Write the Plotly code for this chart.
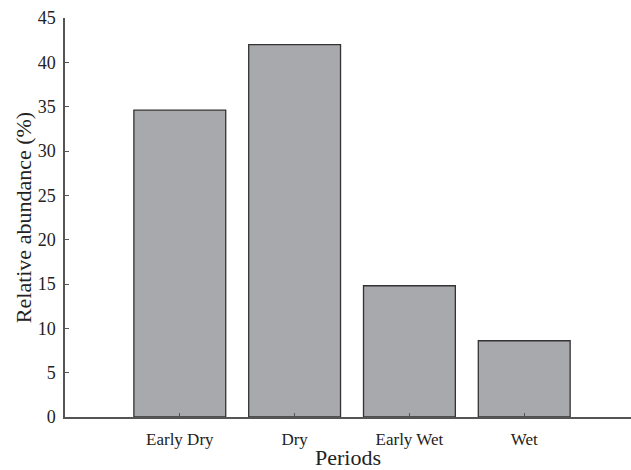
import plotly.graph_objects as go

categories = ["Early Dry", "Dry", "Early Wet", "Wet"]
values = [34.6, 42.0, 14.8, 8.6]
positions = [1, 2, 3, 4]
y_ticks = [0, 5, 10, 15, 20, 25, 30, 35, 40, 45]

fig = go.Figure(go.Bar(
    x=positions, y=values, width=0.8,
    marker=dict(color="#a8a9ad", line=dict(color="#333333", width=1.3)),
))

font = "Liberation Serif, Times New Roman, serif"
fig.update_layout(
    width=631, height=470,
    margin=dict(l=65, r=0, t=18, b=53),
    plot_bgcolor="white", paper_bgcolor="white",
    showlegend=False,
    font=dict(family=font, color="#222222", size=16),
)
fig.update_xaxes(
    range=[0, 4.93], tickvals=positions, ticktext=categories,
    showline=True, linecolor="#555555", linewidth=1.5,
    ticks="inside", ticklen=4, tickcolor="#555555",
    showgrid=False, zeroline=False, automargin=False,
    ticklabelstandoff=6,
    title=dict(text="Periods", font=dict(size=22), standoff=8),
    tickfont=dict(size=17),
)
fig.update_yaxes(
    range=[0, 45], tickvals=y_ticks,
    showline=True, linecolor="#555555", linewidth=1.5,
    ticks="inside", ticklen=4, tickcolor="#555555",
    showgrid=False, zeroline=False, automargin=False,
    ticklabelstandoff=4,
    title=dict(text="Relative abundance (%)", font=dict(size=22), standoff=0),
    tickfont=dict(size=18),
)
fig.write_html(
    "out.html",
    config={"displayModeBar": False},
    post_script="document.body.style.margin='0';document.body.style.overflow='hidden';",
)
